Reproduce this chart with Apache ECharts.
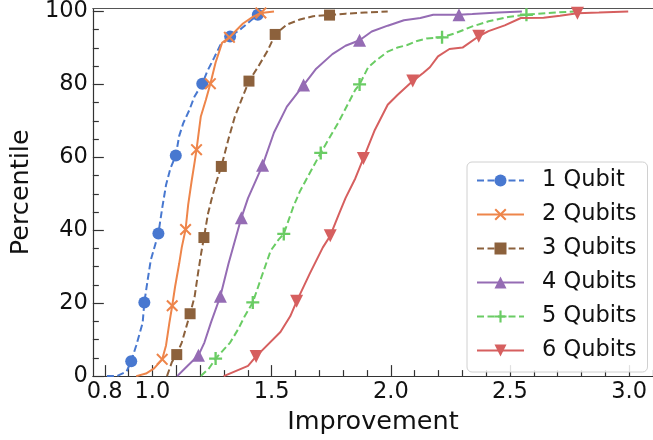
<!DOCTYPE html>
<html>
<head>
<meta charset="utf-8">
<script src="https://cdn.jsdelivr.net/npm/echarts@6/dist/echarts.min.js"></script>
<style>
html,body{margin:0;padding:0;background:#fff;}
#chart{width:653px;height:440px;}
</style>
</head>
<body>
<div id="chart"></div>
<script>
// ---- data ----
const seriesNames = ['1 Qubit', '2 Qubits', '3 Qubits', '4 Qubits', '5 Qubits', '6 Qubits'];

const q1X = [0.809,0.85,0.891,0.911,0.932,0.959,0.966,0.98,0.993,1.025,1.041,1.057,1.075,1.098,1.112,1.129,1.155,1.176,1.209,1.23,1.258,1.285,1.326,1.373,1.414,1.442,1.458];
const q1Y = [0,0,1.2,4.1,8.4,14.6,20.2,26.4,31.8,39.1,46.1,52.4,56.9,60.5,65.8,69.3,73,76.6,80.2,83.6,87.2,90.8,93.1,95.3,97.6,99.1,100];
const q1Marks = [3,6,9,13,18,22,25];

const q2X = [0.932,0.973,1.007,1.041,1.057,1.071,1.083,1.095,1.112,1.123,1.139,1.15,1.164,1.177,1.185,1.196,1.203,1.224,1.243,1.265,1.292,1.323,1.353,1.38,1.421,1.455,1.51];
const q2Y = [0,0.7,2.1,4.6,8.4,14.6,19.3,24.5,30.8,35.3,40.2,47,53.3,58.7,62.1,67.7,71.2,75.7,80.2,86,91.4,92.9,94.9,96.7,98.5,99.6,100];
const q2Marks = [3,6,10,14,18,21,25];

const q3X = [1.061,1.082,1.102,1.123,1.143,1.158,1.177,1.191,1.204,1.216,1.233,1.247,1.265,1.289,1.319,1.346,1.373,1.405,1.442,1.483,1.515,1.564,1.619,1.674,1.743,1.81,1.892,1.987];
const q3Y = [0,3.9,5.9,9.2,13.7,17.1,21.8,28.1,33.5,38,44.5,48.2,52.6,57.5,65,71.2,75.7,80.9,84.7,89.2,93.7,96.4,97.8,98.7,99,99.4,99.7,100];
const q3Marks = [2,5,9,13,17,20,24];

const q4X = [1.104,1.136,1.193,1.218,1.245,1.285,1.319,1.373,1.401,1.462,1.51,1.564,1.634,1.687,1.755,1.81,1.869,1.92,1.987,2.055,2.124,2.178,2.286,2.342,2.451,2.55];
const q4Y = [0,2.1,5.7,9.2,14.6,21.9,30.8,43.4,48.8,57.8,66.8,73.9,79.8,84.3,88.3,90.6,92.1,94.5,96.1,97.6,98.2,99.1,99.1,99.3,99.7,100];
const q4Marks = [2,5,7,9,12,16,22];

const q5X = [1.203,1.237,1.265,1.326,1.36,1.387,1.421,1.455,1.496,1.53,1.551,1.592,1.619,1.646,1.706,1.782,1.85,1.869,1.905,1.933,1.987,2.028,2.069,2.11,2.15,2.215,2.273,2.342,2.41,2.492,2.569,2.66,2.77];
const q5Y = [0,2.1,4.8,9.2,12.9,16.4,20.2,26.7,34.4,37.5,39,46.6,50.7,54,61.2,69.8,78.4,80,84.7,86.3,89,90.1,90.8,91.9,92.6,92.9,94.1,95.9,97.3,98.5,99.1,99.6,100];
const q5Marks = [2,6,10,14,17,25,30];

const q6X = [1.299,1.401,1.435,1.537,1.578,1.605,1.66,1.715,1.746,1.781,1.81,1.851,1.885,1.933,1.987,2.028,2.092,2.137,2.164,2.198,2.246,2.301,2.369,2.41,2.478,2.546,2.641,2.71,2.783,2.873,2.996];
const q6Y = [0,2.8,5.4,12.1,16.4,20.5,28.1,35.3,38.5,44.2,48.8,54.2,59.7,67.5,74.4,77.1,80.9,83.2,84.7,87.7,89.7,90.1,93.2,94.6,96.2,98.2,98.3,98.8,99.5,99.7,100];
const q6Marks = [2,5,8,12,16,22,28];

const xMajorTicks = [0.8,0.9,1.0,1.1,1.2,1.5,2.0,2.5,3.0];
const xMinorTicks = [1.3,1.4,1.6,1.7,1.8,1.9,2.1,2.2,2.3,2.4,2.6,2.7,2.8,2.9,3.1];
const xTickLabels = [0.8,1.0,1.5,2.0,2.5,3.0];
const yTickLabels = [0,20,40,60,80,100];
const yMinorTicks = [5,10,15,25,30,35,45,50,55,65,70,75,85,90,95];

// ---- styling ----
const colors = ['#4878d0','#ee854a','#8c613c','#956cb4','#6acc64','#d65f5f'];
const XSYM = 'path://M1.2,0L5,3.8L8.8,0L10,1.2L6.2,5L10,8.8L8.8,10L5,6.2L1.2,10L0,8.8L3.8,5L0,1.2Z';
const PSYM = 'path://M4.1,0H5.9V4.1H10V5.9H5.9V10H4.1V5.9H0V4.1H4.1Z';
const symbols = ['circle', XSYM, 'rect', 'triangle', PSYM, 'triangle'];
const rotates = [0,0,0,0,0,180];
const sizes = [12,12,11,13,13,13];
const dashed = [true,false,true,false,true,false];

const allX = [q1X,q2X,q3X,q4X,q5X,q6X];
const allY = [q1Y,q2Y,q3Y,q4Y,q5Y,q6Y];
const allM = [q1Marks,q2Marks,q3Marks,q4Marks,q5Marks,q6Marks];

const XMIN = 0.75, XMAX = 3.1, YMIN = 0, YMAX = 100.8;
const FONT = 'DejaVu Sans';
const TICKFS = 22.5, LEGFS = 22.5, NAMEFS = 25.5;

const series = seriesNames.map((name, i) => ({
  name: name,
  type: 'line',
  xAxisIndex: 0,
  yAxisIndex: 0,
  data: allX[i].map((x, k) => {
    const item = { value: [x, allY[i][k]] };
    if (allM[i].indexOf(k) < 0) item.symbol = 'none';
    return item;
  }),
  symbol: symbols[i],
  symbolSize: sizes[i],
  symbolRotate: rotates[i],
  showSymbol: true,
  showAllSymbol: true,
  smooth: false,
  animation: false,
  lineStyle: { color: colors[i], width: 2, type: dashed[i] ? [7, 3.5] : 'solid' },
  itemStyle: { color: colors[i], borderWidth: 0 },
  emphasis: { disabled: true },
  z: 2 + i
}));

const chart = echarts.init(document.getElementById('chart'), null, { renderer: 'canvas' });
chart.setOption({
  animation: false,
  backgroundColor: '#fff',
  textStyle: { fontFamily: FONT },
  grid: { left: 81, top: 7, width: 575, height: 374, containLabel: false },
  xAxis: [
    {
      type: 'value', min: XMIN, max: XMAX, position: 'bottom',
      axisLine: { show: true, lineStyle: { color: '#333', width: 1.2 } },
      axisTick: { show: true, inside: true, length: 11, customValues: xMajorTicks, lineStyle: { color: '#333', width: 1.2 } },
      axisLabel: { show: true, customValues: xTickLabels, formatter: v => Number(v).toFixed(1), fontSize: TICKFS, color: '#111', margin: 5, fontFamily: FONT },
      splitLine: { show: false },
      name: 'Improvement', nameLocation: 'middle', nameGap: 28,
      nameTextStyle: { fontSize: NAMEFS, color: '#111', fontFamily: FONT, verticalAlign: 'top' }
    },
    {
      type: 'value', min: XMIN, max: XMAX, position: 'bottom',
      axisLine: { show: false },
      axisTick: { show: true, inside: true, length: 6, customValues: xMinorTicks, lineStyle: { color: '#333', width: 1.2 } },
      axisLabel: { show: false },
      splitLine: { show: false }
    },
    {
      type: 'value', min: XMIN, max: XMAX, position: 'top',
      axisLine: { show: true, lineStyle: { color: '#555', width: 1.2 } },
      axisTick: { show: false }, axisLabel: { show: false }, splitLine: { show: false }
    }
  ],
  yAxis: [
    {
      type: 'value', min: YMIN, max: YMAX, position: 'left',
      axisLine: { show: true, lineStyle: { color: '#333', width: 1.2 } },
      axisTick: { show: true, inside: true, length: 11, customValues: yTickLabels, lineStyle: { color: '#333', width: 1.2 } },
      axisLabel: { show: true, customValues: yTickLabels, fontSize: TICKFS, color: '#111', margin: 5, fontFamily: FONT },
      splitLine: { show: false },
      name: 'Percentile', nameLocation: 'middle', nameGap: 52, nameRotate: 90,
      nameTextStyle: { fontSize: NAMEFS, color: '#111', fontFamily: FONT }
    },
    {
      type: 'value', min: YMIN, max: YMAX, position: 'left',
      axisLine: { show: false },
      axisTick: { show: true, inside: true, length: 6, customValues: yMinorTicks, lineStyle: { color: '#333', width: 1.2 } },
      axisLabel: { show: false }, splitLine: { show: false }
    }
  ],
  legend: {
    data: seriesNames,
    orient: 'vertical',
    left: 467, top: 162,
    itemWidth: 47, itemHeight: 15, itemGap: 11,
    padding: [7, 11, 10, 9],
    backgroundColor: 'rgba(255,255,255,0.85)',
    borderColor: '#d0d0d0', borderWidth: 1, borderRadius: 5,
    formatter: n => '{t|' + n + '}',
    textStyle: {
      fontFamily: FONT, fontSize: LEGFS, color: '#111',
      rich: { t: { fontFamily: FONT, fontSize: LEGFS, color: '#111', padding: [0, 0, 0, 13] } }
    }
  },
  series: series
});
</script>
</body>
</html>
